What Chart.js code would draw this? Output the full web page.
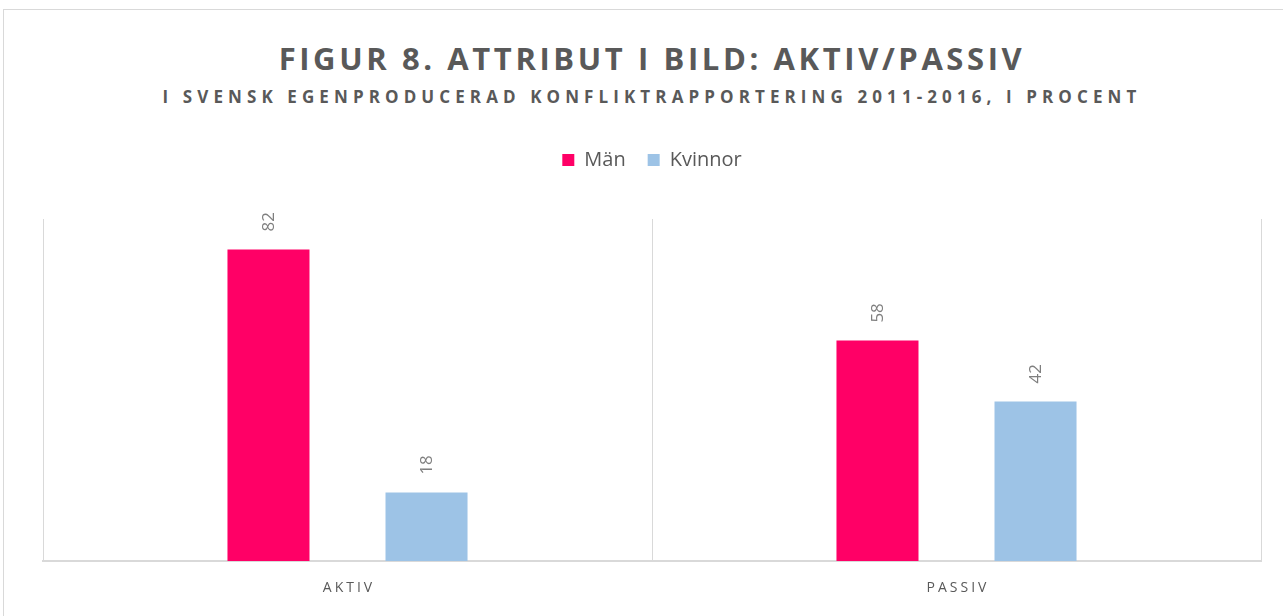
<!DOCTYPE html>
<html>
<head>
<meta charset="utf-8">
<script src="https://cdn.jsdelivr.net/npm/chart.js@4.4.1/dist/chart.umd.min.js"></script>
<style>
  html, body { margin: 0; padding: 0; background: #fff; }
  body { width: 1283px; height: 616px; position: relative; overflow: hidden; }
  #frame { position: absolute; left: 3px; top: 9px; width: 1300px; height: 640px; border: 1px solid #d9d9d9; box-sizing: border-box; }
  .ttl { position: absolute; left: 43px; width: 1218px; text-align: center; color: #595959; font-family: "Open Sans", sans-serif; font-weight: bold; white-space: nowrap; }
  #title { top: 37px; font-size: 31px; line-height: 42px; letter-spacing: 3.6px; }
  #subtitle { top: 84px; font-size: 17px; line-height: 26px; letter-spacing: 5.1px; }
  #chart-container { position: absolute; left: 0; top: 0; width: 1283px; height: 616px; }
</style>
</head>
<body>
<div id="frame"></div>
<div class="ttl" id="title">FIGUR 8. ATTRIBUT I BILD: AKTIV/PASSIV</div>
<div class="ttl" id="subtitle">I SVENSK EGENPRODUCERAD KONFLIKTRAPPORTERING 2011-2016, I PROCENT</div>
<div id="chart-container"><canvas id="mycanvas" width="1283" height="616"></canvas></div>
<script>
var categories = ['AKTIV', 'PASSIV'];
var data_man = [82, 58];
var data_kvinnor = [18, 42];
var seriesNames = ['Män', 'Kvinnor'];

var textGray = '#595959';
var labelGray = '#7f7f7f';

// pushes the plot area down below the legend
var legendSpacer = {
    id: 'legendSpacer',
    beforeInit: function(chart) {
        var origFit = chart.legend.fit;
        chart.legend.fit = function() {
            origFit.bind(chart.legend)();
            this.height += 39;
        };
    }
};

// rotated value labels above bars + letter spaced category labels
var labelsPlugin = {
    id: 'labelsPlugin',
    afterDatasetsDraw: function(chart) {
        var ctx = chart.ctx;
        ctx.save();
        ctx.fillStyle = labelGray;
        ctx.font = '17px "Open Sans", sans-serif';
        ctx.textAlign = 'left';
        ctx.textBaseline = 'middle';
        chart.data.datasets.forEach(function(ds, di) {
            chart.getDatasetMeta(di).data.forEach(function(bar, i) {
                ctx.save();
                ctx.translate(bar.x + 1, bar.y - 18);
                ctx.rotate(-Math.PI / 2);
                ctx.fillText(String(ds.data[i]), 0, 0);
                ctx.restore();
            });
        });
        ctx.restore();

        var xScale = chart.scales.x;
        ctx.save();
        ctx.fillStyle = textGray;
        ctx.font = '14px "Open Sans", sans-serif';
        ctx.letterSpacing = '3px';
        ctx.textAlign = 'left';
        ctx.textBaseline = 'middle';
        categories.forEach(function(c, i) {
            var w = ctx.measureText(c).width - 3;
            ctx.fillText(c, xScale.getPixelForValue(i) - w / 2, 588);
        });
        ctx.restore();
    }
};

var chartdata = {
    labels: categories,
    datasets: [
        {
            label: seriesNames[0],
            data: data_man,
            backgroundColor: '#ff0066',
            categoryPercentage: 0.519,
            barPercentage: 0.519
        },
        {
            label: seriesNames[1],
            data: data_kvinnor,
            backgroundColor: '#9dc3e6',
            categoryPercentage: 0.519,
            barPercentage: 0.519
        }
    ]
};

var ctx = document.getElementById('mycanvas');

var barGraph = new Chart(ctx, {
    type: 'bar',
    data: chartdata,
    plugins: [legendSpacer, labelsPlugin],
    options: {
        responsive: false,
        animation: false,
        layout: {
            padding: { top: 128, left: 43, right: 22, bottom: 55 }
        },
        plugins: {
            legend: {
                position: 'top',
                labels: {
                    boxWidth: 12,
                    boxHeight: 12,
                    padding: 22,
                    color: textGray,
                    font: { family: '"Open Sans", sans-serif', size: 20 }
                }
            },
            tooltip: { enabled: false }
        },
        scales: {
            x: {
                grid: {
                    display: true,
                    offset: true,
                    color: '#d9d9d9',
                    lineWidth: 1,
                    drawTicks: false
                },
                border: { display: true, color: '#d9d9d9', width: 2 },
                ticks: { display: false }
            },
            y: {
                display: false,
                min: 0,
                max: 90
            }
        }
    }
});
</script>
</body>
</html>
